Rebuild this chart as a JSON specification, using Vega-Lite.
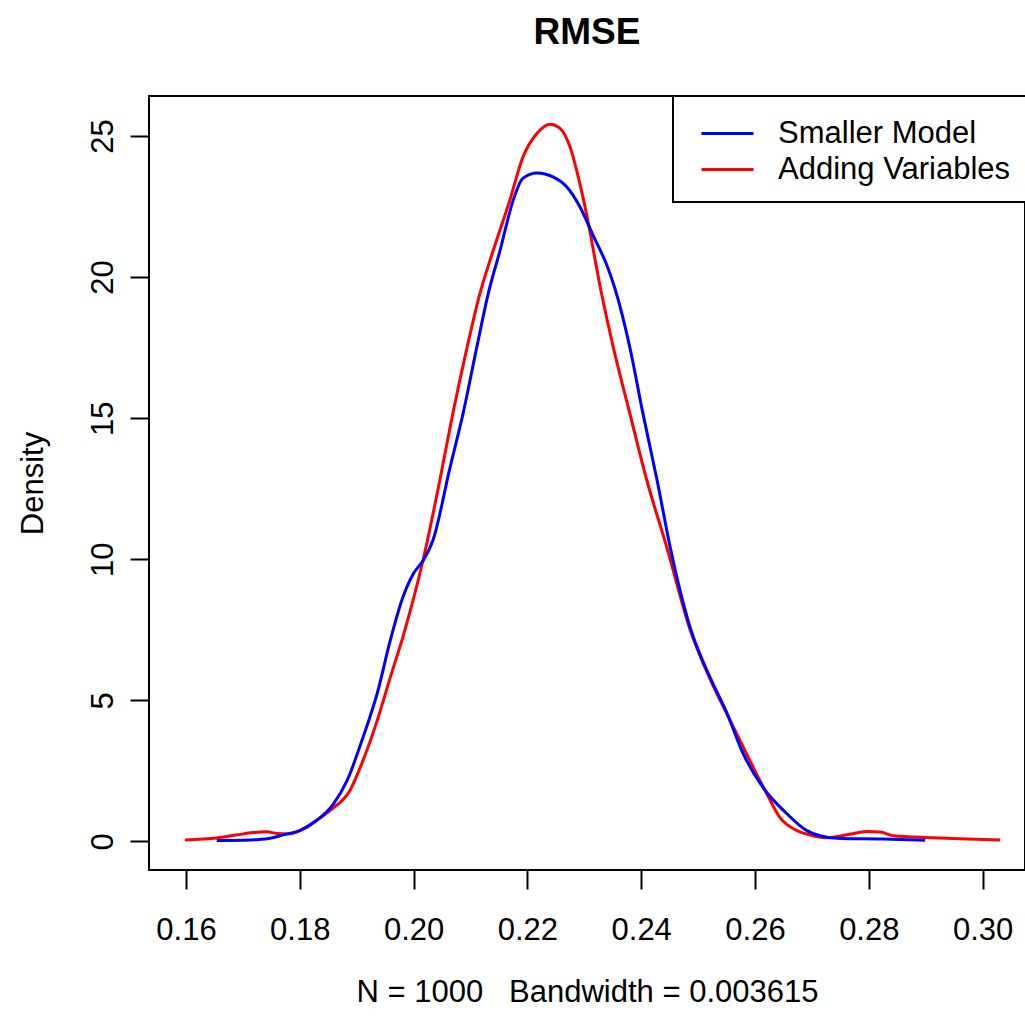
{
  "$schema": "https://vega.github.io/schema/vega-lite/v6.json",
  "autosize": {"type": "none"},
  "padding": {"left": 149, "top": 96, "right": 0, "bottom": 147},
  "width": 876,
  "height": 774,
  "background": "white",
  "title": {"text": "RMSE", "fontSize": 37, "fontWeight": "bold", "font": "Liberation Sans", "color": "#000", "anchor": "middle", "baseline": "alphabetic", "offset": 14},
  "datasets": {
    "dens": [
      {"model": "Smaller Model", "x": 0.1654, "density": 0.03},
      {"model": "Smaller Model", "x": 0.1700, "density": 0.04},
      {"model": "Smaller Model", "x": 0.1725, "density": 0.06},
      {"model": "Smaller Model", "x": 0.1750, "density": 0.12},
      {"model": "Smaller Model", "x": 0.1771, "density": 0.23},
      {"model": "Smaller Model", "x": 0.1800, "density": 0.38},
      {"model": "Smaller Model", "x": 0.1829, "density": 0.73},
      {"model": "Smaller Model", "x": 0.1859, "density": 1.32},
      {"model": "Smaller Model", "x": 0.1883, "density": 2.15},
      {"model": "Smaller Model", "x": 0.1911, "density": 3.68},
      {"model": "Smaller Model", "x": 0.1936, "density": 5.24},
      {"model": "Smaller Model", "x": 0.1959, "density": 7.12},
      {"model": "Smaller Model", "x": 0.1981, "density": 8.64},
      {"model": "Smaller Model", "x": 0.2000, "density": 9.5},
      {"model": "Smaller Model", "x": 0.2017, "density": 9.96},
      {"model": "Smaller Model", "x": 0.2034, "density": 10.67},
      {"model": "Smaller Model", "x": 0.2064, "density": 13.25},
      {"model": "Smaller Model", "x": 0.2087, "density": 15.17},
      {"model": "Smaller Model", "x": 0.2111, "density": 17.51},
      {"model": "Smaller Model", "x": 0.2131, "density": 19.4},
      {"model": "Smaller Model", "x": 0.2152, "density": 20.95},
      {"model": "Smaller Model", "x": 0.2175, "density": 22.72},
      {"model": "Smaller Model", "x": 0.2192, "density": 23.5},
      {"model": "Smaller Model", "x": 0.2217, "density": 23.69},
      {"model": "Smaller Model", "x": 0.2245, "density": 23.55},
      {"model": "Smaller Model", "x": 0.2269, "density": 23.2},
      {"model": "Smaller Model", "x": 0.2292, "density": 22.5},
      {"model": "Smaller Model", "x": 0.2315, "density": 21.5},
      {"model": "Smaller Model", "x": 0.2340, "density": 20.4},
      {"model": "Smaller Model", "x": 0.2353, "density": 19.65},
      {"model": "Smaller Model", "x": 0.2380, "density": 17.51},
      {"model": "Smaller Model", "x": 0.2403, "density": 15.17},
      {"model": "Smaller Model", "x": 0.2428, "density": 12.79},
      {"model": "Smaller Model", "x": 0.2451, "density": 10.42},
      {"model": "Smaller Model", "x": 0.2486, "density": 7.58},
      {"model": "Smaller Model", "x": 0.2521, "density": 5.81},
      {"model": "Smaller Model", "x": 0.2551, "density": 4.53},
      {"model": "Smaller Model", "x": 0.2579, "density": 3.12},
      {"model": "Smaller Model", "x": 0.2614, "density": 1.91},
      {"model": "Smaller Model", "x": 0.2656, "density": 0.98},
      {"model": "Smaller Model", "x": 0.2691, "density": 0.38},
      {"model": "Smaller Model", "x": 0.2714, "density": 0.2},
      {"model": "Smaller Model", "x": 0.2750, "density": 0.1},
      {"model": "Smaller Model", "x": 0.2825, "density": 0.08},
      {"model": "Smaller Model", "x": 0.2899, "density": 0.04},
      {"model": "Adding Variables", "x": 0.1598, "density": 0.05},
      {"model": "Adding Variables", "x": 0.1654, "density": 0.12},
      {"model": "Adding Variables", "x": 0.1690, "density": 0.23},
      {"model": "Adding Variables", "x": 0.1718, "density": 0.31},
      {"model": "Adding Variables", "x": 0.1742, "density": 0.34},
      {"model": "Adding Variables", "x": 0.1760, "density": 0.28},
      {"model": "Adding Variables", "x": 0.1783, "density": 0.27},
      {"model": "Adding Variables", "x": 0.1800, "density": 0.38},
      {"model": "Adding Variables", "x": 0.1823, "density": 0.66},
      {"model": "Adding Variables", "x": 0.1853, "density": 1.09},
      {"model": "Adding Variables", "x": 0.1888, "density": 1.8},
      {"model": "Adding Variables", "x": 0.1911, "density": 2.86},
      {"model": "Adding Variables", "x": 0.1936, "density": 4.28},
      {"model": "Adding Variables", "x": 0.1959, "density": 5.81},
      {"model": "Adding Variables", "x": 0.1981, "density": 7.23},
      {"model": "Adding Variables", "x": 0.1999, "density": 8.54},
      {"model": "Adding Variables", "x": 0.2017, "density": 10.0},
      {"model": "Adding Variables", "x": 0.2046, "density": 12.79},
      {"model": "Adding Variables", "x": 0.2069, "density": 15.17},
      {"model": "Adding Variables", "x": 0.2094, "density": 17.51},
      {"model": "Adding Variables", "x": 0.2115, "density": 19.3},
      {"model": "Adding Variables", "x": 0.2140, "density": 20.95},
      {"model": "Adding Variables", "x": 0.2169, "density": 22.72},
      {"model": "Adding Variables", "x": 0.2192, "density": 24.25},
      {"model": "Adding Variables", "x": 0.2217, "density": 25.1},
      {"model": "Adding Variables", "x": 0.2240, "density": 25.42},
      {"model": "Adding Variables", "x": 0.2257, "density": 25.28},
      {"model": "Adding Variables", "x": 0.2275, "density": 24.61},
      {"model": "Adding Variables", "x": 0.2292, "density": 23.33},
      {"model": "Adding Variables", "x": 0.2305, "density": 22.13},
      {"model": "Adding Variables", "x": 0.2315, "density": 21.06},
      {"model": "Adding Variables", "x": 0.2326, "density": 19.85},
      {"model": "Adding Variables", "x": 0.2350, "density": 17.6},
      {"model": "Adding Variables", "x": 0.2380, "density": 15.17},
      {"model": "Adding Variables", "x": 0.2410, "density": 12.79},
      {"model": "Adding Variables", "x": 0.2445, "density": 10.42},
      {"model": "Adding Variables", "x": 0.2486, "density": 7.5},
      {"model": "Adding Variables", "x": 0.2521, "density": 5.75},
      {"model": "Adding Variables", "x": 0.2551, "density": 4.5},
      {"model": "Adding Variables", "x": 0.2574, "density": 3.56},
      {"model": "Adding Variables", "x": 0.2600, "density": 2.5},
      {"model": "Adding Variables", "x": 0.2621, "density": 1.68},
      {"model": "Adding Variables", "x": 0.2644, "density": 0.84},
      {"model": "Adding Variables", "x": 0.2674, "density": 0.38},
      {"model": "Adding Variables", "x": 0.2702, "density": 0.2},
      {"model": "Adding Variables", "x": 0.2727, "density": 0.13},
      {"model": "Adding Variables", "x": 0.2772, "density": 0.27},
      {"model": "Adding Variables", "x": 0.2797, "density": 0.35},
      {"model": "Adding Variables", "x": 0.2820, "density": 0.33},
      {"model": "Adding Variables", "x": 0.2843, "density": 0.2},
      {"model": "Adding Variables", "x": 0.2913, "density": 0.13},
      {"model": "Adding Variables", "x": 0.2960, "density": 0.09},
      {"model": "Adding Variables", "x": 0.3031, "density": 0.05}
    ]
  },
  "encoding": {
    "x": {
      "field": "x", "type": "quantitative",
      "scale": {"domain": [0.1535, 0.30745], "nice": false, "zero": false},
      "axis": {
        "values": [0.16, 0.18, 0.20, 0.22, 0.24, 0.26, 0.28, 0.30],
        "format": ".2f", "labelPadding": 26, "labelFlush": false, "labelOverlap": false,
        "title": "N = 1000\u00a0\u00a0\u00a0Bandwidth = 0.003615",
        "titleY": 131, "titleBaseline": "alphabetic"
      }
    },
    "y": {
      "field": "density", "type": "quantitative",
      "scale": {"domain": [-1.016, 26.42], "nice": false, "zero": false},
      "axis": {
        "values": [0, 5, 10, 15, 20, 25],
        "labelAngle": 270, "labelAlign": "center", "labelBaseline": "alphabetic", "labelPadding": 18,
        "title": "Density", "titleX": -107, "titleBaseline": "alphabetic", "titleAngle": 270
      }
    }
  },
  "layer": [
    {
      "data": {"values": [{}]},
      "mark": {"type": "rule", "color": "#bebebe", "strokeWidth": 2},
      "encoding": {"y": {"datum": 0}}
    },
    {
      "data": {"name": "dens"},
      "transform": [{"filter": "datum.model === 'Adding Variables'"}],
      "mark": {"type": "line", "strokeWidth": 3, "interpolate": "monotone"},
      "encoding": {
        "color": {
          "field": "model", "type": "nominal",
          "scale": {"domain": ["Smaller Model", "Adding Variables"], "range": ["#0000ff", "#ff0000"]},
          "legend": {
            "orient": "none", "legendX": 524, "legendY": 0, "title": null,
            "symbolType": "M-1.37,0H1.37", "symbolSize": 1444, "symbolStrokeWidth": 3,
            "labelFontSize": 31, "labelFont": "Liberation Sans", "labelColor": "#000", "labelLimit": 600,
            "strokeColor": "#000", "fillColor": "white", "padding": 17, "symbolOffset": 17, "labelOffset": 30, "rowPadding": 0
          }
        }
      }
    },
    {
      "data": {"name": "dens"},
      "transform": [{"filter": "datum.model === 'Smaller Model'"}],
      "mark": {"type": "line", "strokeWidth": 3, "interpolate": "monotone"},
      "encoding": {
        "color": {"field": "model", "type": "nominal"}
      }
    }
  ],
  "config": {
    "view": {"stroke": "#000", "strokeWidth": 2},
    "font": "Liberation Sans",
    "legend": {"strokeWidth": 2},
    "axis": {
      "grid": false, "domain": false, "tickColor": "#000", "tickWidth": 2, "tickSize": 19,
      "labelFont": "Liberation Sans", "labelFontSize": 31, "labelColor": "#000",
      "titleFont": "Liberation Sans", "titleFontSize": 31, "titleFontWeight": "normal", "titleColor": "#000"
    }
  }
}
